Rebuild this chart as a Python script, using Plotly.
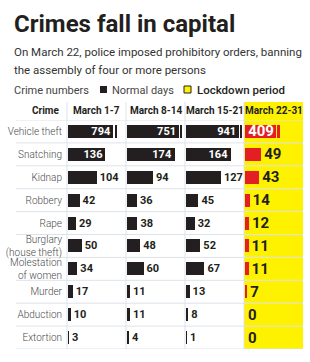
import plotly.graph_objects as go

# ---------------- data ----------------
crimes = ["Vehicle theft", "Snatching", "Kidnap", "Robbery", "Rape",
          "Burglary (house theft)", "Molestation of women", "Murder",
          "Abduction", "Extortion"]
crime_labels = ["Vehicle theft", "Snatching", "Kidnap", "Robbery", "Rape",
                "Burglary<br>(house theft)", "Molestation<br>of women",
                "Murder", "Abduction", "Extortion"]
periods = ["March 1-7", "March 8-14", "March 15-21", "March 22-31"]
mar_1_7 = [794, 136, 104, 42, 29, 50, 34, 17, 10, 3]
mar_8_14 = [751, 174, 94, 36, 38, 48, 60, 11, 11, 4]
mar_15_21 = [941, 164, 127, 45, 32, 52, 67, 13, 8, 1]
mar_22_31 = [409, 49, 43, 14, 12, 11, 11, 7, 0, 0]
series = [mar_1_7, mar_8_14, mar_15_21, mar_22_31]

# display caps for truncated (broken) bars, and x ranges per column
caps = [178, 200, 204, 106]
ranges = [207, 207, 207, 173]
inside_min = [130, 130, 130, 100]

W, H = 310, 362
FONT = "Roboto, sans-serif"
DARK = "#231f20"
RED = "#e31e24"
YELLOW = "#fff200"
GRID = "#dde3ea"


def px(x):
    return x / W


def py(y):
    return 1 - y / H


col_left = [67, 126, 185, 244]
col_w = 59

fig = go.Figure()

for i, vals in enumerate(series):
    xa = "x" if i == 0 else f"x{i+1}"
    color = RED if i == 3 else DARK
    gap_u = 4 if i < 3 else 3
    sl_u = 7 if i < 3 else 6
    main, gap, sliver, pos, tcol, texts = [], [], [], [], [], []
    for v in vals:
        if v > caps[i]:
            main.append(caps[i] - gap_u - sl_u)
            gap.append(gap_u)
            sliver.append(sl_u)
        else:
            main.append(v)
            gap.append(0)
            sliver.append(0)
        if v >= inside_min[i]:
            pos.append("inside")
            tcol.append("white")
        else:
            pos.append("outside")
            tcol.append(DARK)
        texts.append(str(v))
    fsize = 15 if i == 3 else 11
    fig.add_trace(go.Bar(
        x=main, y=crimes, orientation="h", xaxis=xa, yaxis="y",
        marker=dict(color=color, line=dict(width=0)),
        text=texts, textposition=pos, insidetextanchor="end",
        textfont=dict(family=FONT, size=fsize, color=tcol, weight="bold"),
        constraintext="none", cliponaxis=False, showlegend=False,
        hoverinfo="skip"))
    fig.add_trace(go.Bar(
        x=gap, y=crimes, orientation="h", xaxis=xa, yaxis="y",
        marker=dict(color=YELLOW if i == 3 else "white", line=dict(width=0)),
        showlegend=False, hoverinfo="skip"))
    fig.add_trace(go.Bar(
        x=sliver, y=crimes, orientation="h", xaxis=xa, yaxis="y",
        marker=dict(color=color, line=dict(width=0)),
        showlegend=False, hoverinfo="skip"))

layout = dict(
    width=W, height=H, margin=dict(l=0, r=0, t=0, b=0),
    paper_bgcolor="white", plot_bgcolor="rgba(0,0,0,0)",
    barmode="stack", bargap=0.43, showlegend=False,
    font=dict(family=FONT, color=DARK),
    yaxis=dict(type="category", categoryarray=crimes, range=[9.5, -0.5],
               domain=[py(349), py(120)], showgrid=False, zeroline=False,
               showline=False, ticks="", tickvals=crimes, ticktext=crime_labels,
               tickfont=dict(family=FONT, size=10, color="#4a4a4a", weight=300),
               ticklabelstandoff=5, fixedrange=True, anchor="x"),
)
for i in range(4):
    key = "xaxis" if i == 0 else f"xaxis{i+1}"
    layout[key] = dict(domain=[px(col_left[i] + 1), px(col_left[i] + col_w - 1)],
                       range=[0, ranges[i]], visible=False, fixedrange=True,
                       anchor="y")
fig.update_layout(**layout)

shapes = []
# yellow lockdown column
shapes.append(dict(type="rect", xref="paper", yref="paper",
                   x0=px(244), x1=px(303), y0=py(349), y1=py(102),
                   fillcolor=YELLOW, line=dict(width=0), layer="below"))
# row lines
for k in range(11):
    shapes.append(dict(type="line", xref="paper", yref="y",
                       x0=px(16), x1=px(303), y0=k - 0.5, y1=k - 0.5,
                       line=dict(color=GRID, width=1), layer="below"))
# column lines
for xl in col_left:
    shapes.append(dict(type="line", xref="paper", yref="paper",
                       x0=px(xl), x1=px(xl), y0=py(349), y1=py(102),
                       line=dict(color=GRID, width=1), layer="below"))
# legend squares
shapes.append(dict(type="rect", xref="paper", yref="paper",
                   x0=px(100), x1=px(107), y0=py(93), y1=py(86),
                   fillcolor=DARK, line=dict(width=0)))
shapes.append(dict(type="rect", xref="paper", yref="paper",
                   x0=px(184), x1=px(191), y0=py(93), y1=py(86),
                   fillcolor=YELLOW, line=dict(color=DARK, width=1)))
fig.update_layout(shapes=shapes)

ann = []
ann.append(dict(text="<b>Crimes fall in capital</b>", x=px(12), y=py(24),
                xanchor="left", yanchor="middle",
                font=dict(family=FONT, size=24, color=DARK)))
ann.append(dict(text="On March 22, police imposed prohibitory orders, banning",
                x=px(12), y=py(52), xanchor="left", yanchor="middle",
                font=dict(family=FONT, size=11.5, color="#333333")))
ann.append(dict(text="the assembly of four or more persons",
                x=px(12), y=py(70), xanchor="left", yanchor="middle",
                font=dict(family=FONT, size=11.5, color="#333333")))
ann.append(dict(text="Crime numbers", x=px(12), y=py(90), xanchor="left",
                yanchor="middle", font=dict(family=FONT, size=11, color="#444444")))
ann.append(dict(text="Normal days", x=px(110), y=py(90), xanchor="left",
                yanchor="middle", font=dict(family=FONT, size=11, color="#444444")))
ann.append(dict(text="Lockdown period", x=px(195), y=py(90), xanchor="left",
                yanchor="middle", font=dict(family=FONT, size=11.5, color=DARK, weight=500)))
ann.append(dict(text="<b>Crime</b>", x=px(62), y=py(111), xanchor="right",
                yanchor="middle", font=dict(family=FONT, size=10, color=DARK)))
for i, p in enumerate(periods):
    ann.append(dict(text=f"<b>{p}</b>", x=px(col_left[i] + col_w / 2), y=py(111),
                    xanchor="center", yanchor="middle",
                    font=dict(family=FONT, size=10, color=DARK)))
for a in ann:
    a.update(xref="paper", yref="paper", showarrow=False)
fig.update_layout(annotations=ann)

fig.write_html("out.html")
